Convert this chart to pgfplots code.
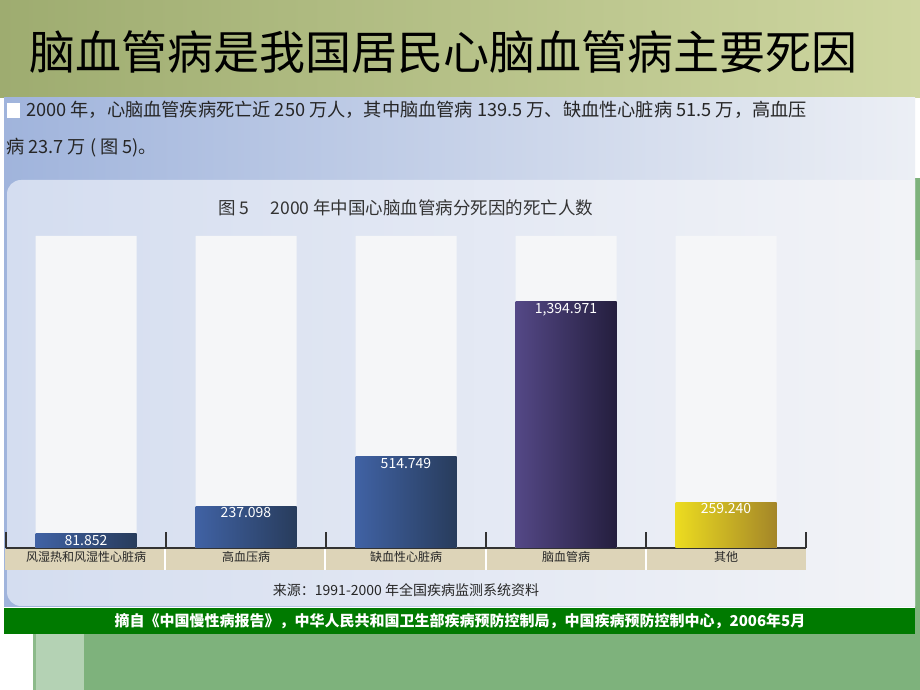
\documentclass[border=0pt]{standalone}
\usepackage{fontspec}
\setmainfont{Noto Sans CJK SC}
\usepackage{pgfplots}
\pgfplotsset{compat=1.18}

\definecolor{hdrL}{RGB}{158,172,112}
\definecolor{hdrR}{RGB}{206,214,160}
\definecolor{slgreen}{RGB}{126,178,124}
\definecolor{slgreenL}{RGB}{180,210,180}
\definecolor{slgreenD}{RGB}{140,186,138}
\definecolor{txtL}{RGB}{160,180,220}
\definecolor{txtR}{RGB}{236,239,245}
\definecolor{chL}{RGB}{212,221,240}
\definecolor{chR}{RGB}{243,244,247}
\definecolor{citegreen}{RGB}{0,122,0}
\definecolor{track}{RGB}{245,246,248}
\definecolor{band}{RGB}{221,212,184}
\definecolor{blueL}{RGB}{64,98,164}
\definecolor{blueR}{RGB}{40,60,92}
\definecolor{purL}{RGB}{84,72,134}
\definecolor{purR}{RGB}{36,30,62}
\definecolor{yelL}{RGB}{236,220,32}
\definecolor{yelR}{RGB}{164,134,40}

\pgfplotsset{
  valbar/.style={ybar, bar width=101pt, bar shift=0pt, draw=none,
    point meta=y,
    nodes near coords={\pgfmathprintnumber[fixed, fixed zerofill, precision=3, 1000 sep={,}, assume math mode=true]{\pgfplotspointmeta}},
    nodes near coords style={anchor=north, text=white, inner sep=1pt, yshift=-0.5pt,
      font=\fontsize{14}{16}\selectfont}},
}

\begin{document}
\begin{tikzpicture}[x=1pt,y=1pt]
% slide background
\fill[white] (0,0) rectangle (920,690);
\shade[left color=hdrL, right color=hdrR] (0,592) rectangle (920,690);
\fill[slgreen] (915,0) rectangle (920,512);
\fill[slgreenL] (915,340) rectangle (920,430);
\fill[slgreenD] (33,0) rectangle (36,56);
\fill[slgreenL] (36,0) rectangle (84,56);
\fill[slgreen] (84,0) rectangle (920,56);
% picture panel
\shade[left color=txtL, right color=txtR] (4,83) rectangle (915,592);
\begin{scope}
  \clip (0,0) rectangle (915,690);
  \shade[left color=chL, right color=chR, rounded corners=14pt] (7,84) rectangle (940,510);
\end{scope}
\fill[citegreen] (4,56) rectangle (915,82);

% slide title
\node[anchor=center, font=\fontsize{46}{50}\selectfont] at (443,638)
  {脑血管病是我国居民心脑血管病主要死因};

% paragraph
\fill[white] (7,572) rectangle (20,587);
\node[anchor=west, font=\fontsize{18.2}{21}\selectfont, text=black!85, inner sep=0pt] at (26,580)
  {2000 年，心脑血管疾病死亡近 250 万人，其中脑血管病 139.5 万、缺血性心脏病 51.5 万，高血压};
\node[anchor=west, font=\fontsize{18.2}{21}\selectfont, text=black!85, inner sep=0pt] at (6,542)
  {病 23.7 万 ( 图 5)。};

% chart title
\node[font=\fontsize{17.5}{20}\selectfont, text=black!80] at (406,482)
  {图 5\hspace{1.2em}2000 年中国心脑血管病分死因的死亡人数};

% category band
\fill[band] (5,120) rectangle (806,141);
\foreach \xx in {165,325,486,646} \fill[white] (\xx-1,120) rectangle (\xx+1,141);

% source
\node[font=\fontsize{14}{16}\selectfont, text=black!85] at (406,100)
  {来源：1991-2000 年全国疾病监测系统资料};

% citation
\node[font=\bfseries\fontsize{15}{17}\selectfont, text=white] at (460,69)
  {摘自《中国慢性病报告》，中华人民共和国卫生部疾病预防控制局，中国疾病预防控制中心，2006年5月};

\begin{axis}[
    at={(6pt,142pt)}, anchor=south west,
    width=800pt, height=312pt, scale only axis,
    xmin=-0.5, xmax=4.5, ymin=0, ymax=1763.6,
    axis y line=none, axis x line*=bottom,
    x axis line style={-, line width=1.2pt, color=black!80},
    xtick={-0.5,0.5,1.5,2.5,3.5,4.5}, xticklabels={},
    xtick align=inside, major tick length=16pt,
    tick style={line width=1.1pt, color=black!80},
    extra x ticks={0,1,2,3,4},
    extra x tick labels={风湿热和风湿性心脏病,高血压病,缺血性心脏病,脑血管病,其他},
    extra x tick style={major tick length=0pt,
      tick label style={font=\fontsize{12}{14}\selectfont, text=black!85}},
    clip=false,
]
% background tracks
\addplot[ybar, bar width=101pt, bar shift=0pt, fill=track, draw=none]
  coordinates {(0,1763.6) (1,1763.6) (2,1763.6) (3,1763.6) (4,1763.6)};
% deaths (thousands)
\addplot[valbar, left color=blueL, right color=blueR] coordinates {(0,81.852)};
\addplot[valbar, left color=blueL, right color=blueR] coordinates {(1,237.098)};
\addplot[valbar, left color=blueL, right color=blueR] coordinates {(2,514.749)};
\addplot[valbar, left color=purL, right color=purR] coordinates {(3,1394.971)};
\addplot[valbar, left color=yelL, right color=yelR] coordinates {(4,259.240)};
\end{axis}
\end{tikzpicture}
\end{document}
